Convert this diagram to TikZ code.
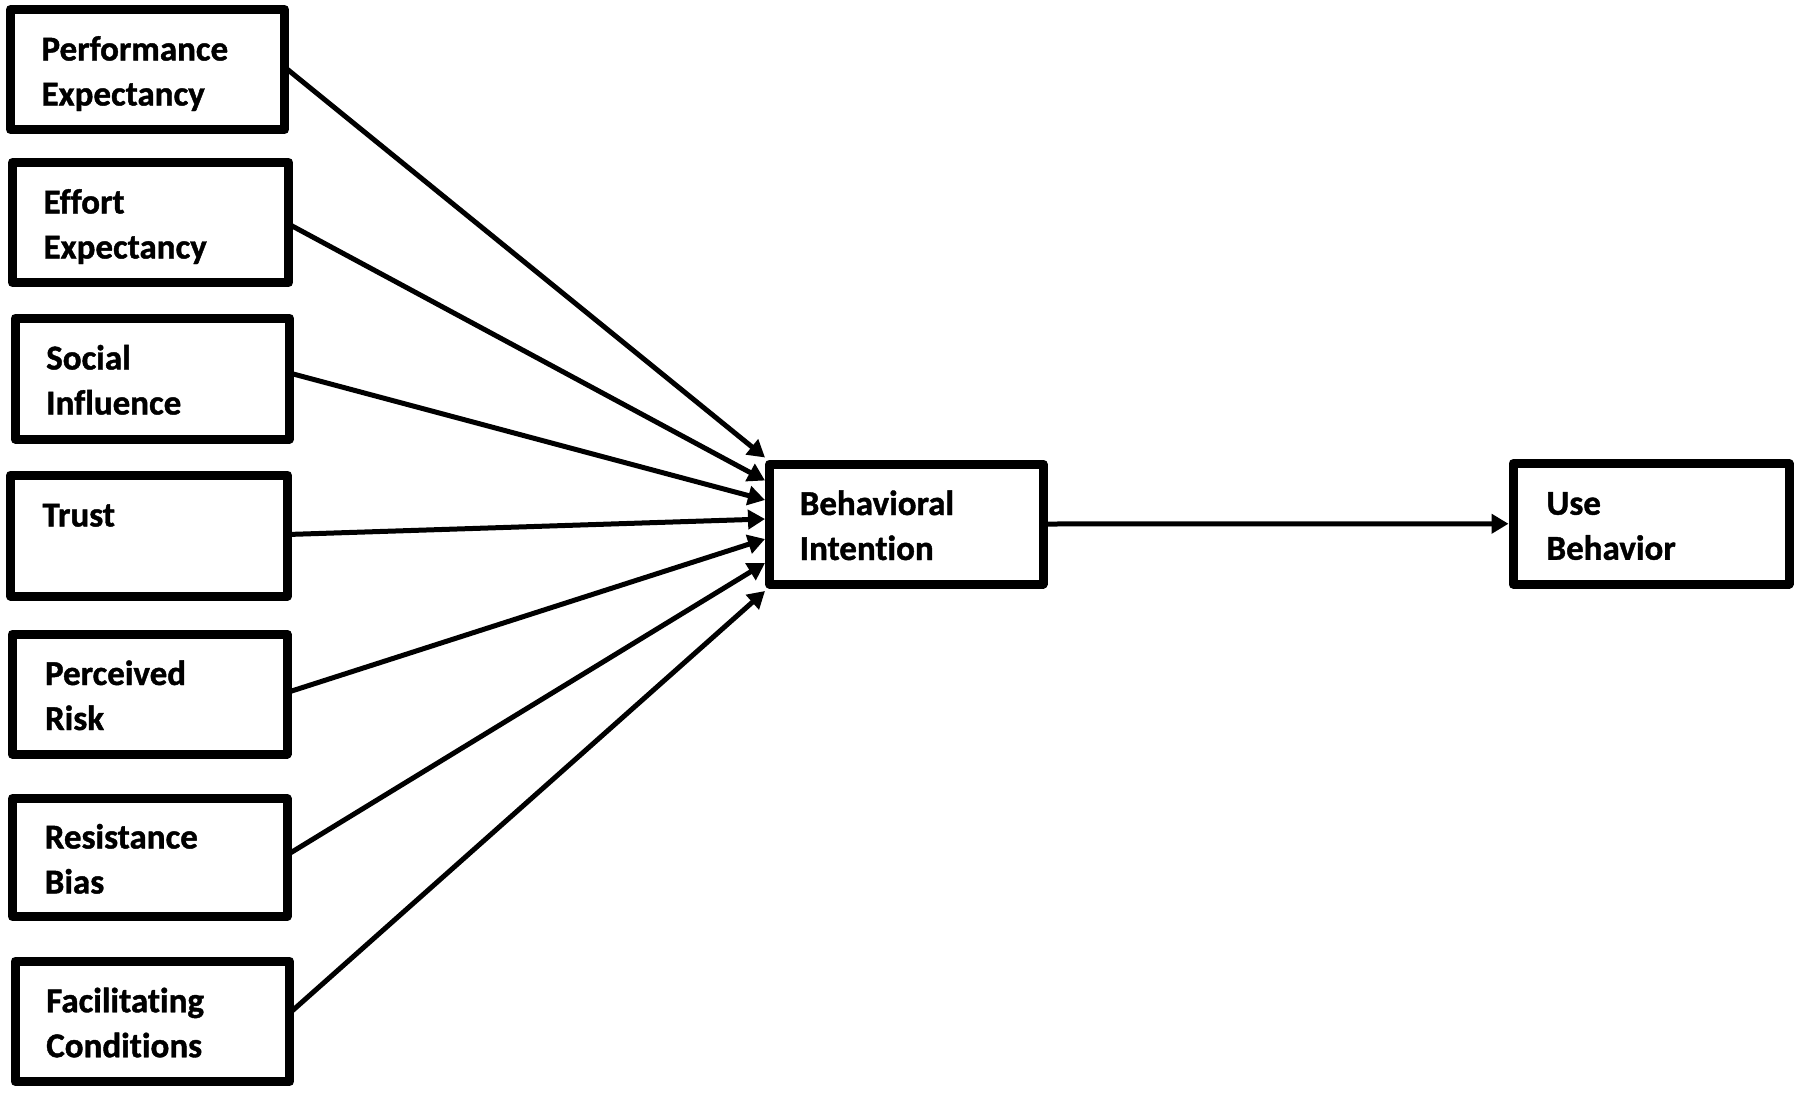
\documentclass[tikz,border=0pt]{standalone}
\usepackage{fontspec}
\setmainfont{Carlito}[Ligatures=NoCommon, BoldFeatures={FakeBold=1.2}]
\usetikzlibrary{arrows.meta,calc}
\newcommand\bxstrut{\rule[-8pt]{0pt}{43pt}}
\begin{document}
\begin{tikzpicture}[x=1pt,y=-1pt,
  box/.style={draw=black, line width=9pt, line join=round, rectangle,
    inner sep=0pt, outer sep=0pt, anchor=north west, align=left,
    font=\fontsize{35}{45}\selectfont\bfseries},
  conn/.style={line width=5pt, -{Triangle[length=17pt,width=19pt]}}]
\useasboundingbox[fill=white] (0,0) rectangle (1805,1098);
% input boxes
\node[box, minimum width=274pt, minimum height=120pt, text width=212pt] (pe) at (10.5,9.5) {\bxstrut Performance\\\bxstrut Expectancy};
\node[box, minimum width=276pt, minimum height=120pt, text width=214pt] (ee) at (12.5,162.5) {\bxstrut Effort\\\bxstrut Expectancy};
\node[box, minimum width=274.5pt, minimum height=121pt, text width=212pt] (si) at (15,318) {\bxstrut Social\\\bxstrut Influence};
\node[box, minimum width=277pt, minimum height=121pt, text width=213pt] (tr) at (10.5,475) {\bxstrut Trust\\\bxstrut};
\node[box, minimum width=275pt, minimum height=120pt, text width=209pt] (pr) at (12,634) {\bxstrut Perceived\\\bxstrut Risk};
\node[box, minimum width=274.5pt, minimum height=118pt, text width=210pt] (rb) at (12.5,798.5) {\bxstrut Resistance\\\bxstrut Bias};
\node[box, minimum width=274.5pt, minimum height=120.5pt, text width=212pt] (fc) at (15,961) {\bxstrut Facilitating\\\bxstrut Conditions};
% target boxes
\node[box, minimum width=273.5pt, minimum height=120pt, text width=213pt] (bi) at (769.5,464) {\bxstrut Behavioral\\\bxstrut Intention};
\node[box, minimum width=276pt, minimum height=120.5pt, text width=209pt] (ub) at (1513,463.5) {\bxstrut Use\\\bxstrut Behavior};
% arrow end points on the left side of Behavioral Intention
\coordinate (in1) at (765,457.5);
\coordinate (in2) at (765,480.5);
\coordinate (in3) at (765,500);
\coordinate (in4) at (765,519);
\coordinate (in5) at (765,539);
\coordinate (in6) at (765,563);
\coordinate (in7) at (765,591);
\draw[conn] ([yshift=2.5pt]pe.east) -- (in1);
\draw[conn] ([yshift=-1.5pt]ee.east) -- (in2);
\draw[conn] ([yshift=5.5pt]si.east) -- (in3);
\draw[conn] ([yshift=1pt]tr.east) -- (in4);
\draw[conn] ([yshift=1.5pt]pr.east) -- (in5);
\draw[conn] ([yshift=2.5pt]rb.east) -- (in6);
\draw[conn] ([yshift=8pt]fc.east) -- (in7);
\draw[conn] (bi.east) -- ([xshift=-4.5pt]ub.west);
\end{tikzpicture}
\end{document}
